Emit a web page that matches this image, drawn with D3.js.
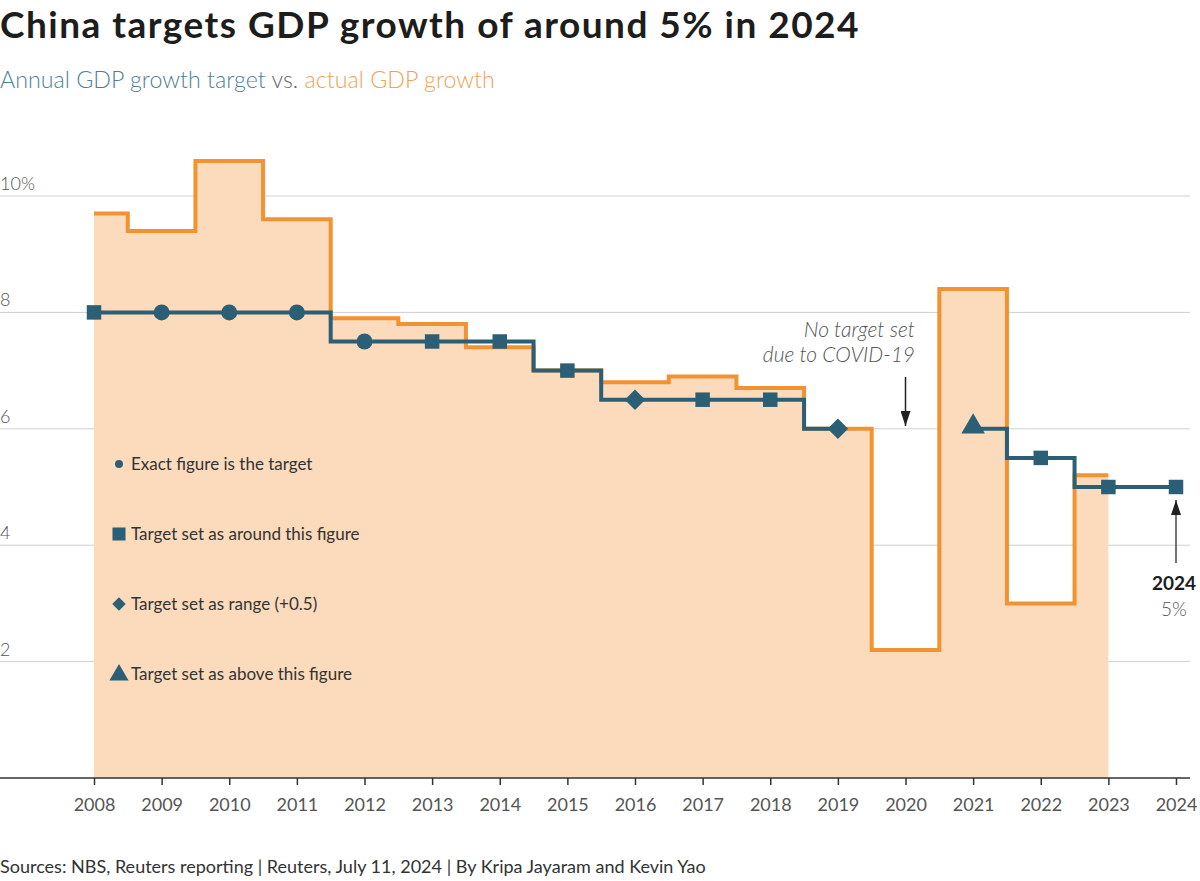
<!DOCTYPE html>
<html>
<head>
<meta charset="utf-8">
<script src="https://cdn.jsdelivr.net/npm/d3@7"></script>
<style>
  html, body { margin: 0; padding: 0; background: #fff; }
  svg { display: block; font-family: Lato, "Noto Sans", sans-serif; }
</style>
</head>
<body>
<svg id="chart" width="1200" height="881"></svg>
<script>
// ---- Data ----
const years = [2008, 2009, 2010, 2011, 2012, 2013, 2014, 2015, 2016, 2017, 2018, 2019, 2020, 2021, 2022, 2023, 2024];
const actualGrowth = [9.7, 9.4, 10.6, 9.6, 7.9, 7.8, 7.4, 7.0, 6.8, 6.9, 6.7, 6.0, 2.2, 8.4, 3.0, 5.2, null];
const targetGrowth = [8, 8, 8, 8, 7.5, 7.5, 7.5, 7, 6.5, 6.5, 6.5, 6, null, 6, 5.5, 5, 5];
const targetType = ["around", "exact", "exact", "exact", "exact", "around", "around", "around", "range", "around", "around", "range", null, "above", "around", "around", "around"];
const yTicks = [2, 4, 6, 8, 10];
const legendItems = [
  { type: "exact", label: "Exact figure is the target" },
  { type: "around", label: "Target set as around this figure" },
  { type: "range", label: "Target set as range (+0.5)" },
  { type: "above", label: "Target set as above this figure" }
];

const ORANGE = "#f39231";
const FILL = "#fbdbbb";
const TEAL = "#2b5f75";

const svg = d3.select("#chart");

const x = d3.scaleLinear().domain([2008, 2024]).range([94, 1176]);
const y = d3.scaleLinear().domain([0, 10]).range([778, 196]);

function fitText(sel, w) {
  const l = sel.node().getComputedTextLength();
  const fs = parseFloat(sel.attr("font-size"));
  sel.attr("font-size", fs * w / l);
}
function fitSpacing(sel, w) {
  const l = sel.node().getComputedTextLength();
  const n = sel.text().length;
  sel.attr("letter-spacing", (w - l) / n);
}
const title = svg.append("text").attr("x", 0).attr("y", 38)
  .attr("font-size", 37).attr("font-weight", 700).attr("fill", "#1d1d1d")
  .text("China targets GDP growth of around 5% in 2024");
fitSpacing(title, 860);

const sub = svg.append("text").attr("x", 0).attr("y", 88)
  .attr("font-size", 22).attr("font-weight", 300);
sub.append("tspan").attr("fill", "#4f7f93").text("Annual GDP growth target");
sub.append("tspan").attr("fill", "#666").text(" vs. ");
sub.append("tspan").attr("fill", "#f4a055").text("actual GDP growth");
fitText(sub, 495);

// Gridlines
const grid = svg.append("g");
grid.selectAll("line").data(yTicks).join("line")
  .attr("x1", 0).attr("x2", 1190)
  .attr("y1", d => y(d)).attr("y2", d => y(d))
  .attr("stroke", "#cfcfcf").attr("stroke-width", 1);
grid.selectAll("text").data(yTicks).join("text")
  .attr("x", 0).attr("y", d => y(d) - 6)
  .attr("font-size", 18).attr("fill", "#555").attr("font-weight", 300)
  .text(d => d === 10 ? "10%" : d);

// Area
const actualData = years.map((yr, i) => ({ year: yr, v: actualGrowth[i] })).filter(d => d.v != null);
svg.append("path").datum(actualData)
  .attr("fill", FILL)
  .attr("d", d3.area().curve(d3.curveStep).x(d => x(d.year)).y0(y(0)).y1(d => y(d.v)));
svg.append("path").datum(actualData)
  .attr("fill", "none").attr("stroke", ORANGE).attr("stroke-width", 4)
  .attr("d", d3.line().curve(d3.curveStep).x(d => x(d.year)).y(d => y(d.v)));

// X axis
const xAxis = d3.axisBottom(x).tickValues(years).tickFormat(d3.format("d")).tickSize(7).tickSizeOuter(0);
const gx = svg.append("g").attr("transform", `translate(0,${y(0)})`).call(xAxis);
gx.select(".domain").remove();
gx.append("line").attr("x1", 0).attr("x2", 1190).attr("stroke", "#333").attr("stroke-width", 1.5);
gx.selectAll(".tick line").attr("stroke", "#333").attr("stroke-width", 1.5);
gx.selectAll(".tick text").attr("font-size", 18).attr("fill", "#555").attr("y", 20).attr("dy", "0.71em")
  .attr("font-family", "Lato, sans-serif").attr("font-weight", 400);

// Target line
const targetData = years.map((yr, i) => ({ year: yr, v: targetGrowth[i], type: targetType[i] }));
svg.append("path").datum(targetData)
  .attr("fill", "none").attr("stroke", TEAL).attr("stroke-width", 4)
  .attr("d", d3.line().defined(d => d.v != null).curve(d3.curveStep).x(d => x(d.year)).y(d => y(d.v)));

function symbolPath(type, s) {
  const t = { exact: d3.symbolCircle, around: d3.symbolSquare, range: d3.symbolSquare, above: d3.symbolTriangle }[type];
  return d3.symbol().type(t).size(s)();
}
const markSize = { exact: 200, around: 210, range: 210, above: 240 };
svg.append("g").selectAll("path").data(targetData.filter(d => d.v != null)).join("path")
  .attr("transform", d => `translate(${x(d.year)},${y(d.v) - (d.type === "above" ? 2 : 0)})` + (d.type === "range" ? " rotate(45)" : ""))
  .attr("d", d => symbolPath(d.type, markSize[d.type]))
  .attr("fill", TEAL);

// Legend
const legendSize = { exact: 50, around: 170, range: 90, above: 160 };
const lg = svg.append("g").selectAll("g").data(legendItems).join("g")
  .attr("transform", (d, i) => `translate(119,${464 + i * 70})`);
lg.append("path").attr("d", d => symbolPath(d.type, legendSize[d.type])).attr("fill", TEAL)
  .attr("transform", d => d.type === "above" ? "translate(0,1)" : (d.type === "range" ? "rotate(45)" : null));
lg.append("text").attr("x", 12).attr("y", 6).attr("font-size", 17).attr("fill", "#333")
  .text(d => d.label);

// COVID annotation
const covid = svg.append("g").attr("font-style", "italic").attr("font-size", 21).attr("fill", "#555")
  .attr("text-anchor", "end").attr("font-weight", 300);
covid.append("text").attr("x", 915).attr("y", 337).text("No target set");
covid.append("text").attr("x", 915).attr("y", 362).text("due to COVID-19");

svg.append("defs").html(`
  <marker id="ah" viewBox="0 0 15 10" refX="15" refY="5" markerWidth="15" markerHeight="10" markerUnits="userSpaceOnUse" orient="auto">
    <path d="M0,0 L15,5 L0,10 z" fill="#222"/>
  </marker>
  <marker id="ah2" viewBox="0 0 15 10" refX="15" refY="5" markerWidth="15" markerHeight="10" markerUnits="userSpaceOnUse" orient="auto">
    <path d="M0,0 L15,5 L0,10 z" fill="#222"/>
  </marker>`);
svg.append("line").attr("x1", x(2020)).attr("x2", x(2020)).attr("y1", 377).attr("y2", 426)
  .attr("stroke", "#222").attr("stroke-width", 1.5).attr("marker-end", "url(#ah)");

// 2024 annotation
svg.append("line").attr("x1", x(2024)).attr("x2", x(2024)).attr("y1", 563).attr("y2", 500)
  .attr("stroke", "#444").attr("stroke-width", 1.5).attr("marker-end", "url(#ah2)");
svg.append("text").attr("x", 1174).attr("y", 590).attr("text-anchor", "middle")
  .attr("font-size", 19).attr("font-weight", 700).attr("fill", "#1d1d1d").text("2024");
svg.append("text").attr("x", 1174).attr("y", 616).attr("text-anchor", "middle")
  .attr("font-size", 19).attr("font-weight", 300).attr("fill", "#555").text("5%");

// Footer
const foot = svg.append("text").attr("x", 0).attr("y", 873).attr("font-size", 17).attr("fill", "#333")
  .text("Sources: NBS, Reuters reporting | Reuters, July 11, 2024 | By Kripa Jayaram and Kevin Yao");
fitText(foot, 706);
</script>
</body>
</html>
